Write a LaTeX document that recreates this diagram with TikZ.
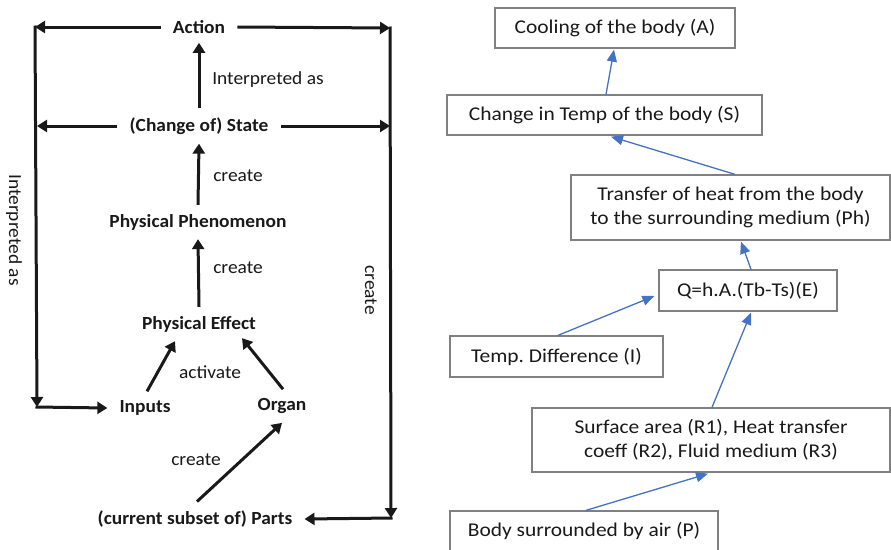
\documentclass[tikz,border=0pt]{standalone}
\usepackage{fontspec}
\setmainfont{Carlito}
\newfontfamily\lfont[FakeStretch=1.05]{Carlito}
\newfontfamily\rfont[FakeStretch=1.1]{Carlito}
\usetikzlibrary{arrows.meta,calc}
\definecolor{arrblue}{RGB}{68,114,196}
\definecolor{boxgray}{RGB}{128,128,128}
\definecolor{txt}{RGB}{25,25,25}
\tikzset{
  lnode/.style={font=\lfont\bfseries\fontsize{18.5}{22}\selectfont, text=txt, inner xsep=12pt, inner ysep=9pt},
  llabel/.style={font=\lfont\fontsize{18.5}{22}\selectfont, text=txt, inner sep=0pt},
  larr/.style={line width=3pt, draw=txt, -{Triangle[length=10pt,width=12pt]}},
  rbox/.style={draw=boxgray, line width=1.3pt, font=\rfont\fontsize{19.5}{24}\selectfont, text=txt, align=center, inner sep=0pt},
  rarr/.style={draw=arrblue, line width=1.3pt, -{Triangle[length=12pt,width=10pt]}, color=arrblue}
}
\frenchspacing
\begin{document}
\frenchspacing
\begin{tikzpicture}[x=1pt,y=-1pt]
\useasboundingbox (0,0) rectangle (891,549);
% ---------- left diagram ----------
\node[lnode] (action) at (199,27) {Action};
\node[lnode] (state) at (199,126) {(Change of) State};
\node[lnode] (phen) at (198,222) {Physical Phenomenon};
\node[lnode] (effect) at (199,324) {Physical Effect};
\node[lnode] (inputs) at (145,408) {Inputs};
\node[lnode] (organ) at (282,406) {Organ};
\node[lnode] (parts) at (195,519) {(current subset of) Parts};

\coordinate (tl) at (35,27);
\coordinate (bl) at (37,407);
\coordinate (tr) at (390,28);
\coordinate (br) at (391,518);
\coordinate (sl) at (37,126);
\coordinate (sr) at (390,126);

\draw[larr] (action.west) -- (tl);
\draw[larr] (action.east) -- (tr);
\draw[larr] (state.west) -- (sl);
\draw[larr] (state.east) -- (sr);
\draw[larr] ([yshift=1.5pt]tl) -- (bl);
\draw[larr] ([xshift=-1.5pt]bl) -- (inputs.west);
\draw[larr] ([yshift=1.5pt]tr) -- (br);
\draw[larr] ([xshift=1.5pt]br) -- (parts.east);

\draw[larr] (state.north) -- (action.south);
\draw[larr] (phen.north) -- (state.south);
\draw[larr] (effect.north) -- (phen.south);
\draw[larr] ([xshift=2pt]inputs.north) -- ([xshift=-24pt]effect.south);
\draw[larr] ([xshift=1pt]organ.north) -- ([xshift=43pt,yshift=3pt]effect.south);
\draw[larr] ([xshift=2pt]parts.north) -- ([xshift=0pt]organ.south);

\node[llabel] (l1) at (268,80) {Interpreted as};
\node[llabel] (l2) at (238,176) {create};
\node[llabel] (l3) at (238,268) {create};
\node[llabel] (l4) at (210,372) {activate};
\node[llabel] (l5) at (196,460) {create};
\node[llabel, rotate=-90] (l6) at (14,230) {Interpreted as};
\node[llabel, rotate=-90] (l7) at (371,290) {create};

% ---------- right diagram ----------
\node[rbox, minimum width=240pt, minimum height=40pt] (A) at (615,28) {Cooling of the body (A)};
\node[rbox, minimum width=315pt, minimum height=40pt] (S) at (604.5,115) {Change in Temp of the body (S)};
\node[rbox, minimum width=319pt, minimum height=65pt] (Ph) at (730.5,207.5) {Transfer of heat from the body\\to the surrounding medium (Ph)};
\node[rbox, minimum width=178pt, minimum height=41pt] (E) at (748,290.5) {Q=h.A.(Tb-Ts)(E)};
\node[rbox, minimum width=213pt, minimum height=41pt] (I) at (556.5,356.5) {Temp. Difference (I)};
\node[rbox, minimum width=358pt, minimum height=64pt] (R) at (711,440) {Surface area (R1), Heat transfer\\coeff (R2), Fluid medium (R3)};
\node[rbox, minimum width=268pt, minimum height=40pt] (P) at (584,531) {Body surrounded by air (P)};

\draw[rarr] ([xshift=1.5pt]S.north) -- ([xshift=-1pt,yshift=-1pt]A.south);
\draw[rarr] ([xshift=4.5pt]Ph.north) -- ([xshift=6.5pt,yshift=-1pt]S.south);
\draw[rarr] ([xshift=3pt]E.north) -- ([xshift=10.5pt,yshift=-1pt]Ph.south);
\draw[rarr] ([xshift=1.5pt]I.north) -- ([xshift=-4pt,yshift=-5.5pt]E.west);
\draw[rarr] ([xshift=1pt]R.north) -- ([xshift=3pt,yshift=-1pt]E.south);
\draw[rarr] ([xshift=2pt]P.north) -- ([xshift=-3pt,yshift=-1pt]R.south);
\end{tikzpicture}
\end{document}
